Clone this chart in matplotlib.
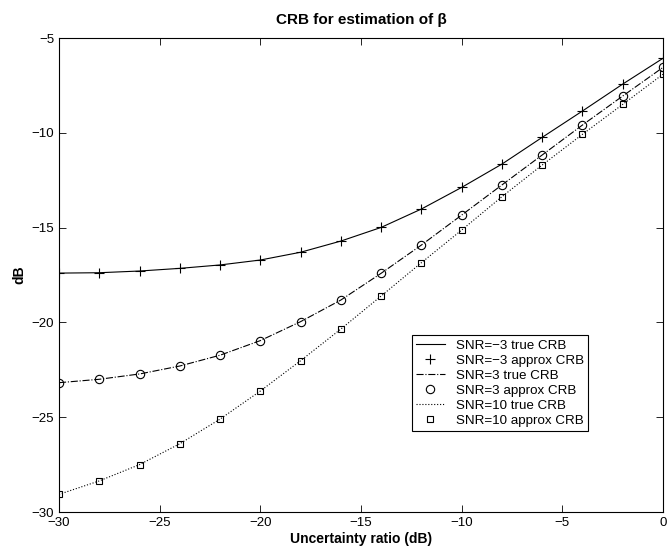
import matplotlib
matplotlib.use("Agg")
import matplotlib.pyplot as plt

plt.rcParams['font.family'] = ['Liberation Sans', 'DejaVu Sans']

x = [-30, -28, -26, -24, -22, -20, -18, -16, -14, -12, -10, -8, -6, -4, -2, 0]
snr_m3 = [-17.40, -17.38, -17.29, -17.15, -16.97, -16.71, -16.30, -15.71, -14.99, -14.02,
          -12.88, -11.65, -10.24, -8.85, -7.43, -6.07]
snr_3 = [-23.18, -23.00, -22.72, -22.30, -21.73, -20.96, -19.96, -18.82, -17.41, -15.92,
         -14.34, -12.75, -11.17, -9.59, -8.06, -6.55]
snr_10 = [-29.07, -28.36, -27.50, -26.40, -25.10, -23.62, -22.02, -20.35, -18.61, -16.85,
          -15.13, -13.37, -11.70, -10.08, -8.50, -6.91]

fig = plt.figure(figsize=(6.67, 5.5), dpi=100)
ax = fig.add_axes([59/667, 1-512/550, 604/667, 474/550])

lw = 0.8
ax.plot(x, snr_m3, '-', color='black', lw=lw, label='SNR=\u22123 true CRB')
ax.plot(x, snr_m3, '+', color='black', ms=7, mew=0.8, ls='none', label='SNR=\u22123 approx CRB')
ax.plot(x, snr_3, '-.', color='black', lw=lw, label='SNR=3 true CRB')
ax.plot(x, snr_3, 'o', color='black', mfc='none', ms=6, mew=0.8, ls='none', label='SNR=3 approx CRB')
ax.plot(x, snr_10, ':', color='black', lw=lw, label='SNR=10 true CRB')
ax.plot(x, snr_10, 's', color='black', mfc='none', ms=5, mew=0.8, ls='none', label='SNR=10 approx CRB')

ax.set_xlim(-30, 0)
ax.set_ylim(-30, -5)
ax.set_xticks([-30, -25, -20, -15, -10, -5, 0])
ax.set_yticks([-30, -25, -20, -15, -10, -5])
ax.tick_params(direction='in', top=True, right=True, labelsize=9.5, length=5, width=0.6)
for s in ax.spines.values():
    s.set_linewidth(0.8)

ax.set_xlabel('Uncertainty ratio (dB)', fontsize=10, fontweight='bold', labelpad=2)
ax.set_ylabel('dB', fontsize=10, fontweight='bold', labelpad=4)
ax.set_title('CRB for estimation of \u03b2', fontsize=11, fontweight='bold', pad=10)

leg = ax.legend(loc='upper left', bbox_to_anchor=(0.584, 0.373), fontsize=9.6,
                frameon=True, fancybox=False, edgecolor='black', framealpha=1,
                borderpad=0.3, labelspacing=0.2, handlelength=2.2, handletextpad=0.8,
                borderaxespad=0)
leg.get_frame().set_linewidth(0.8)

fig.savefig('out.png', dpi=100)
